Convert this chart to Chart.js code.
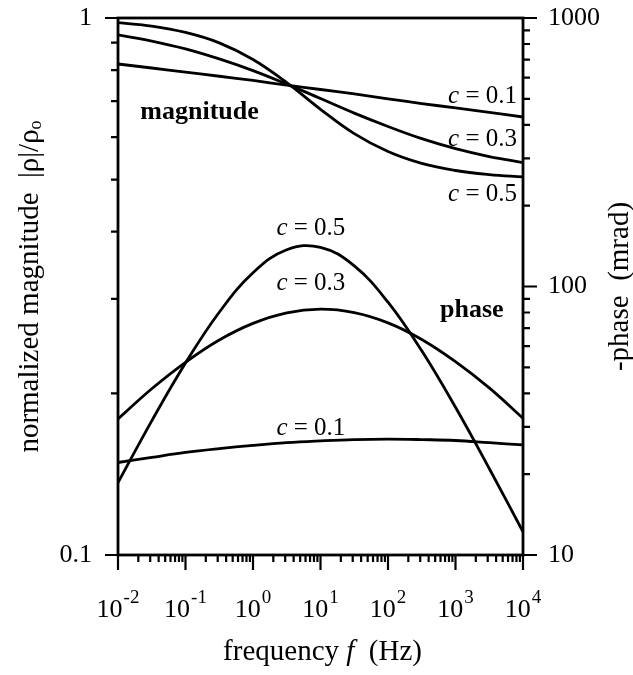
<!DOCTYPE html>
<html>
<head>
<meta charset="utf-8">
<script src="https://cdn.jsdelivr.net/npm/chart.js@4.4.0/dist/chart.umd.min.js"></script>
<style>
html,body{margin:0;padding:0;background:#fff;}
#contenedor{width:633px;height:675px;}
</style>
</head>
<body>
<div id="contenedor"><canvas id="graficoColeCole"></canvas></div>
<script>
// FRECUENCIAS (Hz), cada media decada
const frecuencias = [0.01, 0.03162, 0.1, 0.3162, 1, 3.162, 10, 31.62, 100, 316.2, 1000, 3162, 10000];

// MAGNITUD NORMALIZADA |rho|/rho0
const magnitudC05 = [0.980, 0.966, 0.940, 0.899, 0.837, 0.758, 0.676, 0.609, 0.564, 0.536, 0.520, 0.511, 0.506];
const magnitudC03 = [0.930, 0.906, 0.876, 0.839, 0.798, 0.753, 0.708, 0.665, 0.628, 0.596, 0.571, 0.552, 0.538];
const magnitudC01 = [0.821, 0.807, 0.793, 0.779, 0.765, 0.750, 0.736, 0.722, 0.707, 0.693, 0.680, 0.667, 0.654];

// -FASE (mrad)
const faseC05 = [18.6, 31.6, 51.9, 80.2, 112.5, 137.1, 139.9, 119.3, 87.4, 57.6, 35.5, 21.0, 12.2];
const faseC03 = [32.1, 41.6, 52.2, 63.2, 72.9, 79.8, 82.3, 79.9, 73.2, 63.5, 52.5, 41.9, 32.3];
const faseC01 = [22.1, 23.1, 24.1, 24.9, 25.6, 26.2, 26.6, 26.9, 27.0, 26.9, 26.7, 26.2, 25.7];

// ETIQUETAS DE EJES
const exponentesX = [-2, -1, 0, 1, 2, 3, 4];
const etiquetasIzq = [0.1, 1];
const etiquetasDer = [10, 100, 1000];

const FUENTE = '"Liberation Serif", "Times New Roman", serif';

function serie(valores, eje){
    return {
        data: frecuencias.map((f, i) => ({x: f, y: valores[i]})),
        yAxisID: eje,
        borderColor: '#000',
        borderWidth: 2.8,
        pointRadius: 0,
        fill: false,
        tension: 0.4
    };
}

// TEXTO EN PARTES (italica, subindices...)
function escribir(ctx, partes, x, y, align){
    let ancho = 0;
    partes.forEach(p => { ctx.font = p.font; ancho += ctx.measureText(p.t).width + (p.gap || 0); });
    let inicio = align === 'right' ? x - ancho : (align === 'center' ? x - ancho / 2 : x);
    ctx.textAlign = 'left';
    partes.forEach(p => {
        ctx.font = p.font;
        inicio += (p.gap || 0);
        ctx.fillText(p.t, inicio, y + (p.dy || 0));
        inicio += ctx.measureText(p.t).width;
    });
}

function etiquetaC(valor){
    return [
        {t: 'c', font: 'italic 25px ' + FUENTE},
        {t: ' = ' + valor, font: '25px ' + FUENTE}
    ];
}

const decoracion = {
    id: 'decoracion',
    afterDraw(chart){
        const {ctx, chartArea: a, scales} = chart;
        const x = scales.x, y = scales.y, y2 = scales.y2;
        ctx.save();
        ctx.strokeStyle = '#000';
        ctx.fillStyle = '#000';

        // MARCO
        ctx.lineWidth = 2.8;
        ctx.strokeRect(a.left, a.top, a.right - a.left, a.bottom - a.top);

        ctx.lineWidth = 2.2;
        ctx.beginPath();
        // eje izquierdo
        for(let d = 0.1; d < 1.01; d *= 10){
            for(let k = 1; k <= 9; k++){
                let v = d * k;
                if(v > 1.0001) break;
                let py = y.getPixelForValue(v);
                let largo = k === 1 ? 13 : 7;
                ctx.moveTo(a.left - largo, py);
                ctx.lineTo(a.left, py);
            }
        }
        // eje derecho
        for(let d = 10; d < 1001; d *= 10){
            for(let k = 1; k <= 9; k++){
                let v = d * k;
                if(v > 1000.1) break;
                let py = y2.getPixelForValue(v);
                let largo = k === 1 ? 14 : 7;
                ctx.moveTo(a.right, py);
                ctx.lineTo(a.right + largo, py);
            }
        }
        // eje inferior
        exponentesX.forEach(e => {
            for(let k = 1; k <= 9; k++){
                let v = k * Math.pow(10, e);
                if(v > 10000.1) break;
                let px = x.getPixelForValue(v);
                let largo = k === 1 ? 15 : 7;
                ctx.moveTo(px, a.bottom);
                ctx.lineTo(px, a.bottom + largo);
            }
        });
        ctx.stroke();

        // ETIQUETAS DE TICKS
        ctx.textBaseline = 'middle';
        etiquetasIzq.forEach(v => {
            escribir(ctx, [{t: String(v), font: '26px ' + FUENTE}], a.left - 26, y.getPixelForValue(v), 'right');
        });
        etiquetasDer.forEach(v => {
            escribir(ctx, [{t: String(v), font: '26px ' + FUENTE}], a.right + 25, y2.getPixelForValue(v), 'left');
        });
        ctx.textBaseline = 'alphabetic';
        exponentesX.forEach(e => {
            let px = x.getPixelForValue(Math.pow(10, e));
            escribir(ctx, [
                {t: '10', font: '26px ' + FUENTE},
                {t: (e < 0 ? '-' : '') + Math.abs(e), font: '19px ' + FUENTE, dy: -14, gap: 1}
            ], px, a.bottom + 62, 'center');
        });

        // TITULOS
        ctx.textBaseline = 'middle';
        escribir(ctx, [
            {t: 'frequency ', font: '29px ' + FUENTE},
            {t: 'f', font: 'italic 29px ' + FUENTE},
            {t: '  (Hz)', font: '29px ' + FUENTE}
        ], (a.left + a.right) / 2 + 2, 652, 'center');

        ctx.save();
        ctx.translate(30, (a.top + a.bottom) / 2);
        ctx.rotate(-Math.PI / 2);
        escribir(ctx, [
            {t: 'normalized magnitude  |\u03C1|/\u03C1', font: '29px ' + FUENTE},
            {t: 'o', font: '18px ' + FUENTE, dy: 6}
        ], 0, 0, 'center');
        ctx.restore();

        ctx.save();
        ctx.translate(620, (a.top + a.bottom) / 2);
        ctx.rotate(-Math.PI / 2);
        escribir(ctx, [{t: '-phase  (mrad)', font: '29px ' + FUENTE}], 0, 0, 'center');
        ctx.restore();

        // ANOTACIONES
        escribir(ctx, [{t: 'magnitude', font: 'bold 26px ' + FUENTE}], x.getPixelForValue(0.0214), y.getPixelForValue(0.668), 'left');
        escribir(ctx, [{t: 'phase', font: 'bold 26px ' + FUENTE}], x.getPixelForValue(590), y2.getPixelForValue(81.7), 'left');

        let bordeDer = a.right - 6;
        escribir(ctx, etiquetaC('0.1'), bordeDer, y.getPixelForValue(0.713), 'right');
        escribir(ctx, etiquetaC('0.3'), bordeDer, y.getPixelForValue(0.593), 'right');
        escribir(ctx, etiquetaC('0.5'), bordeDer, y.getPixelForValue(0.470), 'right');

        let centroFase = x.getPixelForValue(7.2);
        escribir(ctx, etiquetaC('0.5'), centroFase, y2.getPixelForValue(165), 'center');
        escribir(ctx, etiquetaC('0.3'), centroFase, y2.getPixelForValue(103), 'center');
        escribir(ctx, etiquetaC('0.1'), centroFase, y2.getPixelForValue(29.7), 'center');

        ctx.restore();
    }
};

const fondo = {
    id: 'fondo',
    beforeDraw(chart){
        const ctx = chart.ctx;
        ctx.save();
        ctx.fillStyle = '#fff';
        ctx.fillRect(0, 0, chart.width, chart.height);
        ctx.restore();
    }
};

new Chart(document.getElementById('graficoColeCole'), {
    type: 'line',
    data: {
        datasets: [
            serie(magnitudC05, 'y'),
            serie(magnitudC03, 'y'),
            serie(magnitudC01, 'y'),
            serie(faseC05, 'y2'),
            serie(faseC03, 'y2'),
            serie(faseC01, 'y2')
        ]
    },
    options: {
        responsive: true,
        maintainAspectRatio: false,
        animation: false,
        layout: {
            padding: {left: 118, right: 110, top: 18, bottom: 120}
        },
        plugins: {
            legend: {display: false},
            tooltip: {enabled: false}
        },
        scales: {
            x: {type: 'logarithmic', min: 0.01, max: 10000, display: false},
            y: {type: 'logarithmic', min: 0.1, max: 1, display: false},
            y2: {type: 'logarithmic', min: 10, max: 1000, display: false, position: 'right'}
        }
    },
    plugins: [fondo, decoracion]
});
</script>
</body>
</html>
